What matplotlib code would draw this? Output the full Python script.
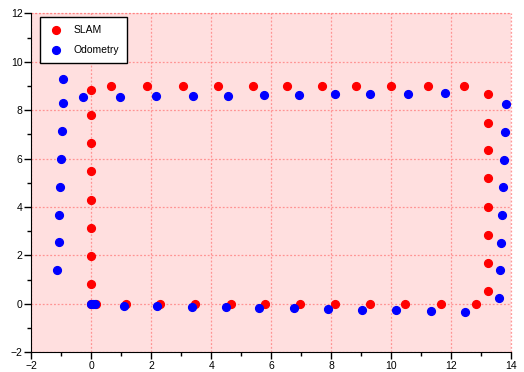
import matplotlib.pyplot as plt
from matplotlib.ticker import MultipleLocator

plt.rcParams['font.family'] = ['Liberation Sans', 'DejaVu Sans']

# SLAM estimate
slam_x = [0.0, 0.0, 0.0, 0.0, 0.0, 0.0, 0.0, 0.0, 0.0,
          0.68, 1.85, 3.05, 4.22, 5.38, 6.52, 7.68, 8.84, 10.0, 11.23, 12.41,
          13.22, 13.22, 13.22, 13.22, 13.22, 13.22, 13.22, 13.22,
          12.82, 11.65, 10.47, 9.28, 8.14, 6.96, 5.81, 4.66, 3.47, 2.3, 1.16, 0.15]
slam_y = [0.0, 0.81, 1.99, 3.14, 4.29, 5.47, 6.64, 7.79, 8.84,
          9.02, 9.02, 9.02, 9.02, 9.02, 9.02, 9.02, 9.02, 9.02, 9.02, 9.02,
          8.67, 7.49, 6.34, 5.19, 4.0, 2.84, 1.69, 0.53,
          0.0, 0.0, 0.0, 0.0, 0.0, 0.0, 0.0, 0.0, 0.0, 0.0, 0.0, 0.0]

# odometry
odom_x = [0.0, 0.07, 0.12, 1.1, 2.21, 3.35, 4.5, 5.61, 6.75, 7.89, 9.02, 10.17, 11.31, 12.46,
          13.58, 13.62, 13.65, 13.68, 13.71, 13.74, 13.78, 13.81,
          11.78, 10.57, 9.3, 8.11, 6.93, 5.75, 4.57, 3.38, 2.17, 0.96, -0.27,
          -0.92, -0.95, -0.97, -1.0, -1.03, -1.06, -1.08, -1.12]
odom_y = [0.0, 0.0, 0.0, -0.07, -0.1, -0.11, -0.13, -0.16, -0.18, -0.21, -0.24, -0.26, -0.29, -0.32,
          0.26, 1.4, 2.53, 3.67, 4.84, 5.96, 7.09, 8.24,
          8.71, 8.68, 8.67, 8.65, 8.64, 8.63, 8.6, 8.58, 8.57, 8.56, 8.55,
          9.31, 8.29, 7.15, 6.0, 4.83, 3.69, 2.56, 1.41]

fig = plt.figure(figsize=(5.24, 3.72), dpi=100)
ax = fig.add_axes([0.0592, 0.053, 0.9166, 0.911])
ax.set_facecolor('#ffdfdf')

ax.plot(slam_x, slam_y, 'o', color='red', markersize=5.6, label='SLAM', zorder=3)
ax.plot(odom_x, odom_y, 'o', color='blue', markersize=5.6, label='Odometry', zorder=3)

ax.set_xlim(-2, 14)
ax.set_ylim(-2, 12)
ax.xaxis.set_major_locator(MultipleLocator(2))
ax.xaxis.set_minor_locator(MultipleLocator(1))
ax.yaxis.set_major_locator(MultipleLocator(2))
ax.yaxis.set_minor_locator(MultipleLocator(1))
ax.tick_params(which='major', direction='out', length=5, width=1, labelsize=7.5, pad=1)
ax.tick_params(which='minor', direction='out', length=3, width=1)
ax.tick_params(top=False, right=False)
ax.spines['top'].set_visible(False)
ax.spines['right'].set_visible(False)
ax.grid(True, which='major', color='#ff8080', linestyle=(0, (1.5, 1.5)), linewidth=0.9, alpha=0.8)
# dotted frame on top and right
ax.axhline(12, color='#ff8080', linestyle=(0, (1.5, 1.5)), linewidth=0.9, alpha=0.8, clip_on=False)
ax.axvline(14, color='#ff8080', linestyle=(0, (1.5, 1.5)), linewidth=0.9, alpha=0.8, clip_on=False)

leg = ax.legend(loc='upper left', fontsize=7.5, frameon=True, fancybox=False,
                edgecolor='black', framealpha=1, borderpad=0.75, labelspacing=0.95,
                handletextpad=0.85, handlelength=1.6, borderaxespad=0,
                bbox_to_anchor=(0.019, 0.988))
leg.get_frame().set_linewidth(1)

plt.savefig('out.png', dpi=100)
